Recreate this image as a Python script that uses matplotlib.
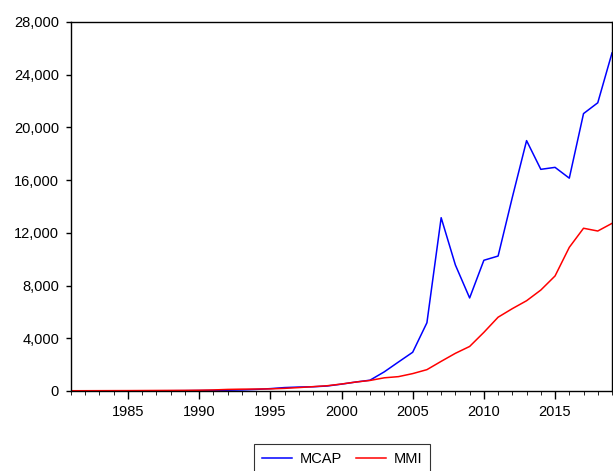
import matplotlib
matplotlib.use("Agg")
import matplotlib.pyplot as plt
from matplotlib.ticker import MultipleLocator, FuncFormatter

# donnees
years = list(range(1981, 2020))
mcap = [5, 6, 8, 10, 12, 15, 18, 20, 25, 35,
        45, 60, 80, 120, 180, 260, 300, 320, 380, 520,
        680, 820, 1450, 2200, 2940, 5180, 13150, 9560, 7060, 9920,
        10240, 14700, 19000, 16820, 16970, 16150, 21050, 21870, 25650]
mmi = [20, 22, 25, 28, 30, 35, 40, 45, 50, 60,
       80, 120, 140, 150, 160, 200, 260, 330, 400, 530,
       680, 800, 1000, 1090, 1320, 1620, 2250, 2860, 3380, 4450,
       5600, 6250, 6850, 7660, 8730, 10900, 12350, 12140, 12720]

plt.rcParams['font.family'] = ['Liberation Sans', 'DejaVu Sans']

fig = plt.figure(figsize=(6.13, 4.71), dpi=100)
ax = fig.add_axes([71/613, 1-391/471, 541/613, 369/471])

ax.plot(years, mcap, color='#0000FF', lw=1.1, label='MCAP')
ax.plot(years, mmi, color='#FF0000', lw=1.1, label='MMI')

ax.set_xlim(1981, 2019)
ax.set_ylim(0, 28000)
ax.yaxis.set_major_locator(MultipleLocator(4000))
ax.yaxis.set_major_formatter(FuncFormatter(lambda v, p: f'{v:,.0f}'))
ax.xaxis.set_major_locator(MultipleLocator(5))
ax.xaxis.set_minor_locator(MultipleLocator(1))
ax.tick_params(axis='both', direction='out', labelsize=10.5, width=1)
ax.tick_params(axis='x', which='major', length=6, pad=4)
ax.tick_params(axis='x', which='minor', length=3)
ax.tick_params(axis='y', length=3.6, pad=5)
for s in ax.spines.values():
    s.set_linewidth(1)

leg = fig.legend(loc='upper center', bbox_to_anchor=(342/613, 1-444/471),
                 ncol=2, frameon=True, fancybox=False, edgecolor='black',
                 fontsize=10.5, handlelength=2.05, handletextpad=0.5,
                 borderpad=0.55, borderaxespad=0, columnspacing=1.0)
leg.get_frame().set_linewidth(0.8)

fig.savefig('out.png', dpi=100)
